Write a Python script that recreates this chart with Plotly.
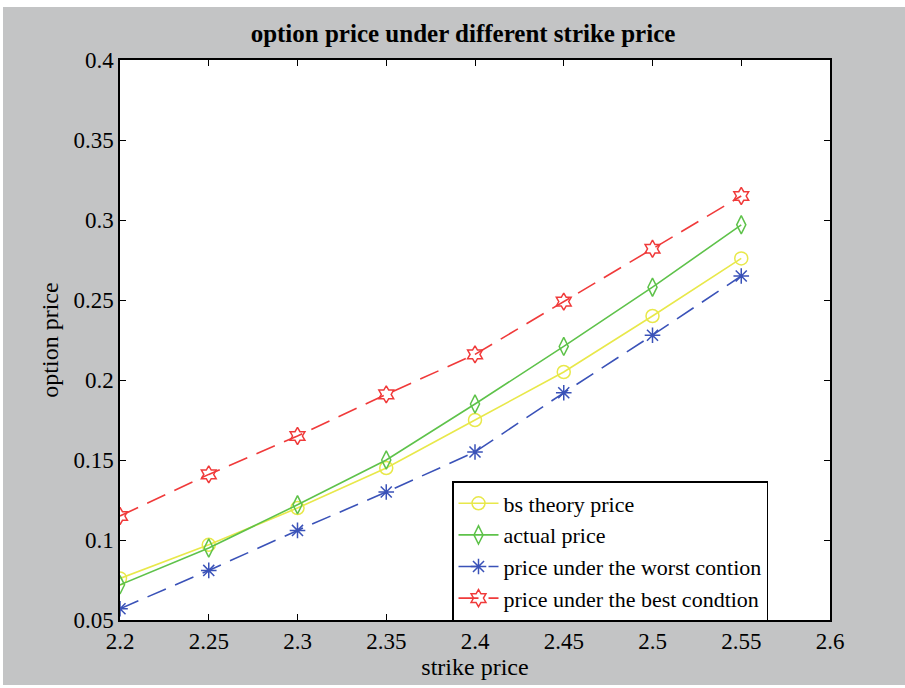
import plotly.graph_objects as go

strike = [2.2, 2.25, 2.3, 2.35, 2.4, 2.45, 2.5, 2.55]
bs_theory = [0.076, 0.097, 0.120, 0.145, 0.175, 0.205, 0.240, 0.276]
actual = [0.072, 0.095, 0.122, 0.150, 0.185, 0.221, 0.258, 0.297]
worst = [0.057, 0.081, 0.106, 0.130, 0.155, 0.192, 0.228, 0.265]
best = [0.115, 0.141, 0.165, 0.191, 0.216, 0.249, 0.282, 0.315]

names = ["bs theory price", "actual price", "price under the worst contion", "price under the best condtion"]
colors = ["#e8e84a", "#5ec24a", "#3a52b8", "#f03a3a"]
symbols = ["circle-open", "diamond-tall-open", "asterisk-open", "hexagram-open"]
dashes = ["solid", "solid", "dash", "dash"]
series = [bs_theory, actual, worst, best]

x_ticks = [2.2, 2.25, 2.3, 2.35, 2.4, 2.45, 2.5, 2.55, 2.6]
x_labels = ["2.2", "2.25", "2.3", "2.35", "2.4", "2.45", "2.5", "2.55", "2.6"]
y_ticks = [0.05, 0.1, 0.15, 0.2, 0.25, 0.3, 0.35, 0.4]
y_labels = ["0.05", "0.1", "0.15", "0.2", "0.25", "0.3", "0.35", "0.4"]

font = "Liberation Serif"
FS = 23

fig = go.Figure()
for nm, col, sym, dsh, ys in zip(names, colors, symbols, dashes, series):
    fig.add_trace(go.Scatter(
        x=strike, y=ys, name=nm, mode="lines+markers",
        line=dict(color=col, width=1.6, dash="20px,10px" if dsh == "dash" else "solid"),
        marker=dict(symbol=sym, size=13, color=col, line=dict(color=col, width=1.5)),
    ))

axis_common = dict(
    showline=True, linecolor="black", linewidth=1.5, mirror="ticks",
    ticks="inside", ticklen=6, tickcolor="black", tickwidth=1.2,
    showgrid=False, zeroline=False,
    tickfont=dict(family=font, size=FS, color="black"),
)

fig.update_layout(
    width=905, height=688,
    paper_bgcolor="#c3c4c5", plot_bgcolor="white",
    margin=dict(l=120, r=75, t=60, b=68),
    title=dict(text="<b>option price under different strike price</b>", x=463 / 905, xanchor="center",
               y=1 - 33 / 688, yanchor="middle", font=dict(family=font, size=25, color="black")),
    xaxis=dict(range=[2.2, 2.6], tickvals=x_ticks, ticktext=x_labels,
               title=dict(text="strike price", font=dict(family=font, size=FS + 1, color="black"), standoff=4),
               **axis_common),
    yaxis=dict(range=[0.05, 0.4], tickvals=y_ticks, ticktext=y_labels,
               title=dict(text="option price", font=dict(family=font, size=FS + 1, color="black"), standoff=8),
               **axis_common),
    legend=dict(x=(452 - 120) / 710, y=1 - (481 - 60) / 560, xanchor="left", yanchor="top",
                bgcolor="white", bordercolor="black", borderwidth=1.5,
                font=dict(family=font, size=22, color="black"), tracegroupgap=0, itemwidth=40),
    showlegend=True,
)

# thin white border strips around the figure (as in the reference scan)
fig.add_shape(type="rect", xref="paper", yref="paper", x0=-1, x1=2, y0=1 + 53 / 560, y1=1 + 70 / 560,
              fillcolor="white", line_width=0, layer="below")
fig.add_shape(type="rect", xref="paper", yref="paper", x0=-1, x1=2, y0=-68 / 560 - 0.05, y1=-65 / 560,
              fillcolor="white", line_width=0, layer="below")
fig.add_shape(type="rect", xref="paper", yref="paper", x0=-130 / 710, x1=-117 / 710, y0=-1, y1=2,
              fillcolor="white", line_width=0, layer="below")

fig.write_html("out.html", config={"displayModeBar": False},
               post_script="document.body.style.margin='0';document.body.style.overflow='hidden';")
